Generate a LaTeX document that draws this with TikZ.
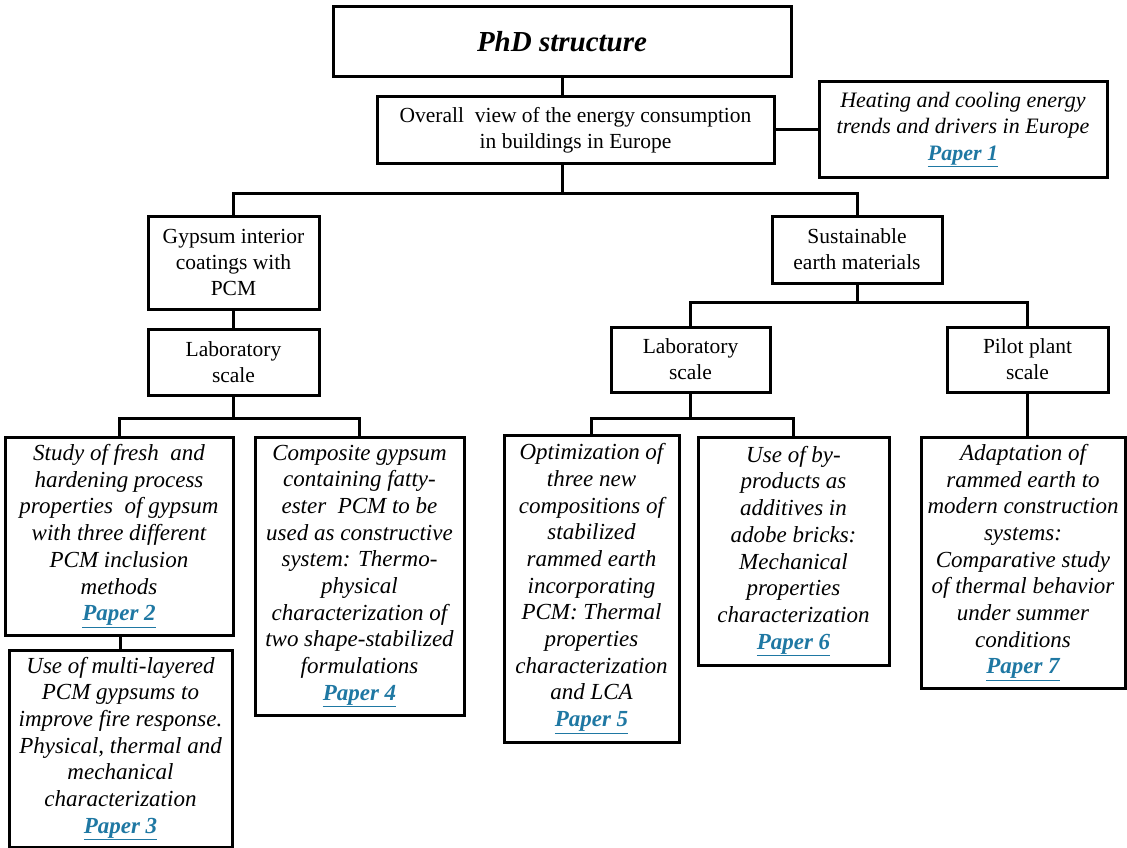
\documentclass[tikz,border=0pt]{standalone}
\usepackage{fontspec}
\setmainfont{Liberation Serif}
\definecolor{paperblue}{HTML}{1F78A3}
\newcommand\paperlink[1]{\textcolor{paperblue}{\bfseries\underline{#1}}}
\begin{document}
\begin{tikzpicture}[x=1pt,y=-1pt,
  box/.style={draw,line width=3pt,align=center,inner sep=0pt,fill=white},
  upbox/.style={box,font=\fontsize{21.5}{26}\selectfont},
  itbox/.style={box,font=\fontsize{23}{26.7}\selectfont\itshape},
  conn/.style={line width=3pt}]
\useasboundingbox[fill=white] (0,0) rectangle (1127,848);

% connectors first (drawn under boxes)
\coordinate (bus1) at (562,193);
\coordinate (bus2) at (857,302);
\coordinate (bus3) at (233.5,418);
\coordinate (bus4) at (690.5,418);

\node[box,minimum width=458pt,minimum height=70pt,font=\fontsize{29}{34}\selectfont\bfseries\itshape] (phd) at (562,42) {PhD structure};
\node[upbox,minimum width=397pt,minimum height=66pt] (ov) at (575.5,130) {Overall~ view of the energy consumption\\in buildings in Europe};
\node[box,minimum width=288pt,minimum height=95pt,font=\fontsize{22}{26.5}\selectfont\itshape] (p1) at (963,129.5) {Heating and cooling energy\\trends and drivers in Europe\\\paperlink{Paper 1}};
\node[upbox,minimum width=171pt,minimum height=93pt] (gyp) at (233.5,262.5) {Gypsum interior\\coatings with\\PCM};
\node[upbox,minimum width=170pt,minimum height=67pt] (sus) at (857,249.5) {Sustainable\\earth materials};
\node[upbox,minimum width=171pt,minimum height=66pt] (labL) at (233.5,362) {Laboratory\\scale};
\node[upbox,minimum width=159pt,minimum height=65pt] (labR) at (690.5,359.5) {Laboratory\\scale};
\node[upbox,minimum width=161pt,minimum height=65pt] (pilot) at (1027.5,359.5) {Pilot plant\\scale};

\node[itbox,minimum width=228pt,minimum height=198pt] (p2) at (119,536) {Study of fresh~ and\\hardening process\\properties~ of gypsum\\with three different\\PCM inclusion\\methods\\\paperlink{Paper 2}};
\node[itbox,minimum width=223pt,minimum height=197pt] (p3) at (120.5,748.5) {Use of multi-layered\\PCM gypsums to\\improve fire response.\\Physical, thermal and\\mechanical\\characterization\\\paperlink{Paper 3}};
\node[itbox,minimum width=209pt,minimum height=278pt] (p4) at (359.5,576) {Composite gypsum\\containing fatty-\\ester~ PCM to be\\used as constructive\\system: Thermo-\\physical\\characterization of\\two shape-stabilized\\formulations\\\paperlink{Paper 4}};
\node[itbox,minimum width=175pt,minimum height=307pt] (p5) at (591.5,588.5) {Optimization of\\three new\\compositions of\\stabilized\\rammed earth\\incorporating\\PCM: Thermal\\properties\\characterization\\and LCA\\\paperlink{Paper 5}};
\node[itbox,minimum width=191pt,minimum height=228pt] (p6) at (793.5,551) {Use of by-\\products as\\additives in\\adobe bricks:\\Mechanical\\properties\\characterization\\\paperlink{Paper 6}};
\node[itbox,minimum width=204pt,minimum height=251pt] (p7) at (1023,562.5) {Adaptation of\\rammed earth to\\modern construction\\systems:\\Comparative study\\of thermal behavior\\under summer\\conditions\\\paperlink{Paper 7}};

\draw[conn] (phd.south) -- (phd.south |- ov.north);
\draw[conn] (ov.east |- p1.west) -- (p1.west);
\draw[conn] (bus1 |- ov.south) -- (bus1);
\draw[conn] (gyp.north) |- (bus1) -| (sus.north);
\draw[conn] (gyp.south) -- (labL.north);
\draw[conn] (labL.south) -- (bus3);
\draw[conn] (p2.north) |- (bus3) -| (p4.north);
\draw[conn] (sus.south) -- (bus2);
\draw[conn] (labR.north) |- (bus2) -| (pilot.north);
\draw[conn] (labR.south) -- (bus4);
\draw[conn] (p5.north) |- (bus4) -| (p6.north);
\draw[conn] (pilot.south) -- (pilot.south |- p7.north);
\draw[conn] (p2.south -| p3.north) -- (p3.north);
\end{tikzpicture}
\end{document}
